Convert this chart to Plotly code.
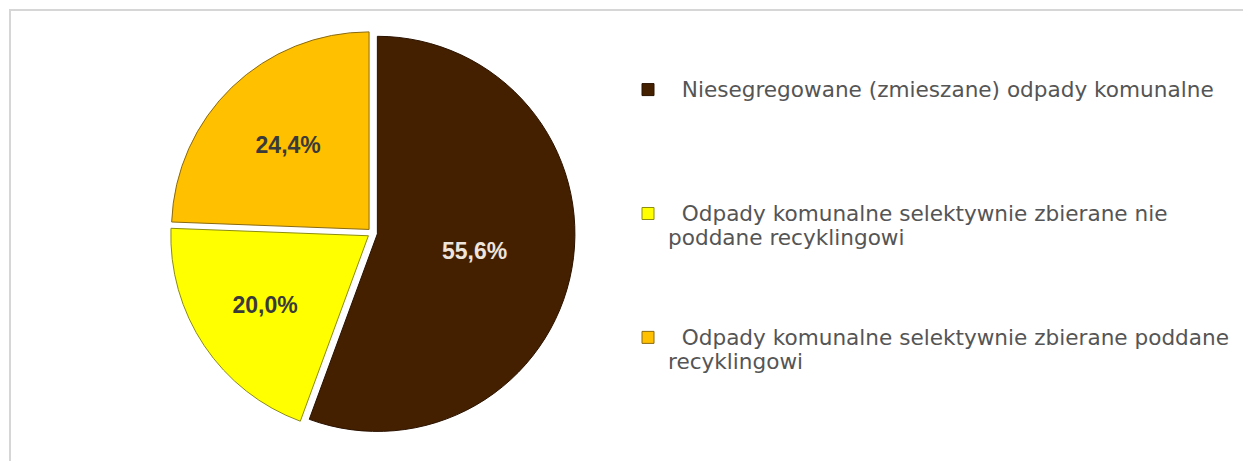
import plotly.graph_objects as go

labels = [
    "Niesegregowane (zmieszane) odpady komunalne",
    "Odpady komunalne selektywnie zbierane nie<br>poddane recyklingowi",
    "Odpady komunalne selektywnie zbierane poddane<br>recyklingowi",
]
values = [55.6, 20.0, 24.4]
colors = ["#452000", "#FFFF00", "#FFC000"]
outline_colors = ["#2a1200", "#8c8c10", "#8a6a10"]
text_colors = ["#eee4dc", "#3a3a3a", "#3a3a3a"]

# page body has an 8px margin; work in screen pixels
W, H = 1243, 453
OFF = 8


def X(sx):
    return (sx - OFF) / W


def Y(sy):
    return 1 - (sy - OFF) / H


SPAN = "<span style='font-size:21.6px'>"
# pad legend entries with blank lines to space them like the reference
legend_labels = []
for lab in labels:
    n = lab.count("<br>") + 1
    txt = "\u00a0\u00a0" + lab + "<br>\u00a0" * (5 - n)
    legend_labels.append(SPAN + txt.replace("<br>", "</span><br>" + SPAN) + "</span>")

cx, cy, size = 372.5, 233, 405

fig = go.Figure(
    go.Pie(
        labels=legend_labels,
        values=values,
        sort=False,
        direction="clockwise",
        rotation=0,
        pull=[0.025, 0.025, 0.025],
        marker=dict(colors=colors, line=dict(color=outline_colors, width=1)),
        texttemplate="%{percent:.1%}",
        textposition="inside",
        insidetextorientation="horizontal",
        textfont=dict(family="Liberation Sans, Arial, sans-serif", size=23,
                      color=text_colors, weight="bold"),
        hoverinfo="percent",
        domain=dict(
            x=[X(cx - size / 2), X(cx + size / 2)],
            y=[Y(cy + size / 2), Y(cy - size / 2)],
        ),
    )
)

fig.update_layout(
    width=W,
    height=H,
    margin=dict(l=0, r=0, t=0, b=0),
    paper_bgcolor="white",
    plot_bgcolor="white",
    separators=", ",
    showlegend=True,
    legend=dict(
        x=X(628),
        y=Y(71),
        xanchor="left",
        yanchor="top",
        valign="top",
        itemwidth=30,
        font=dict(family="DejaVu Sans, sans-serif", size=18.6, color="#555555"),
        bgcolor="rgba(0,0,0,0)",
    ),
    shapes=[
        dict(
            type="rect", xref="paper", yref="paper",
            x0=X(10), x1=1.05, y0=-0.1, y1=Y(10),
            line=dict(color="#d6d6d6", width=2),
            fillcolor="rgba(0,0,0,0)",
            layer="below",
        )
    ],
)

fig.write_html("out.html")
